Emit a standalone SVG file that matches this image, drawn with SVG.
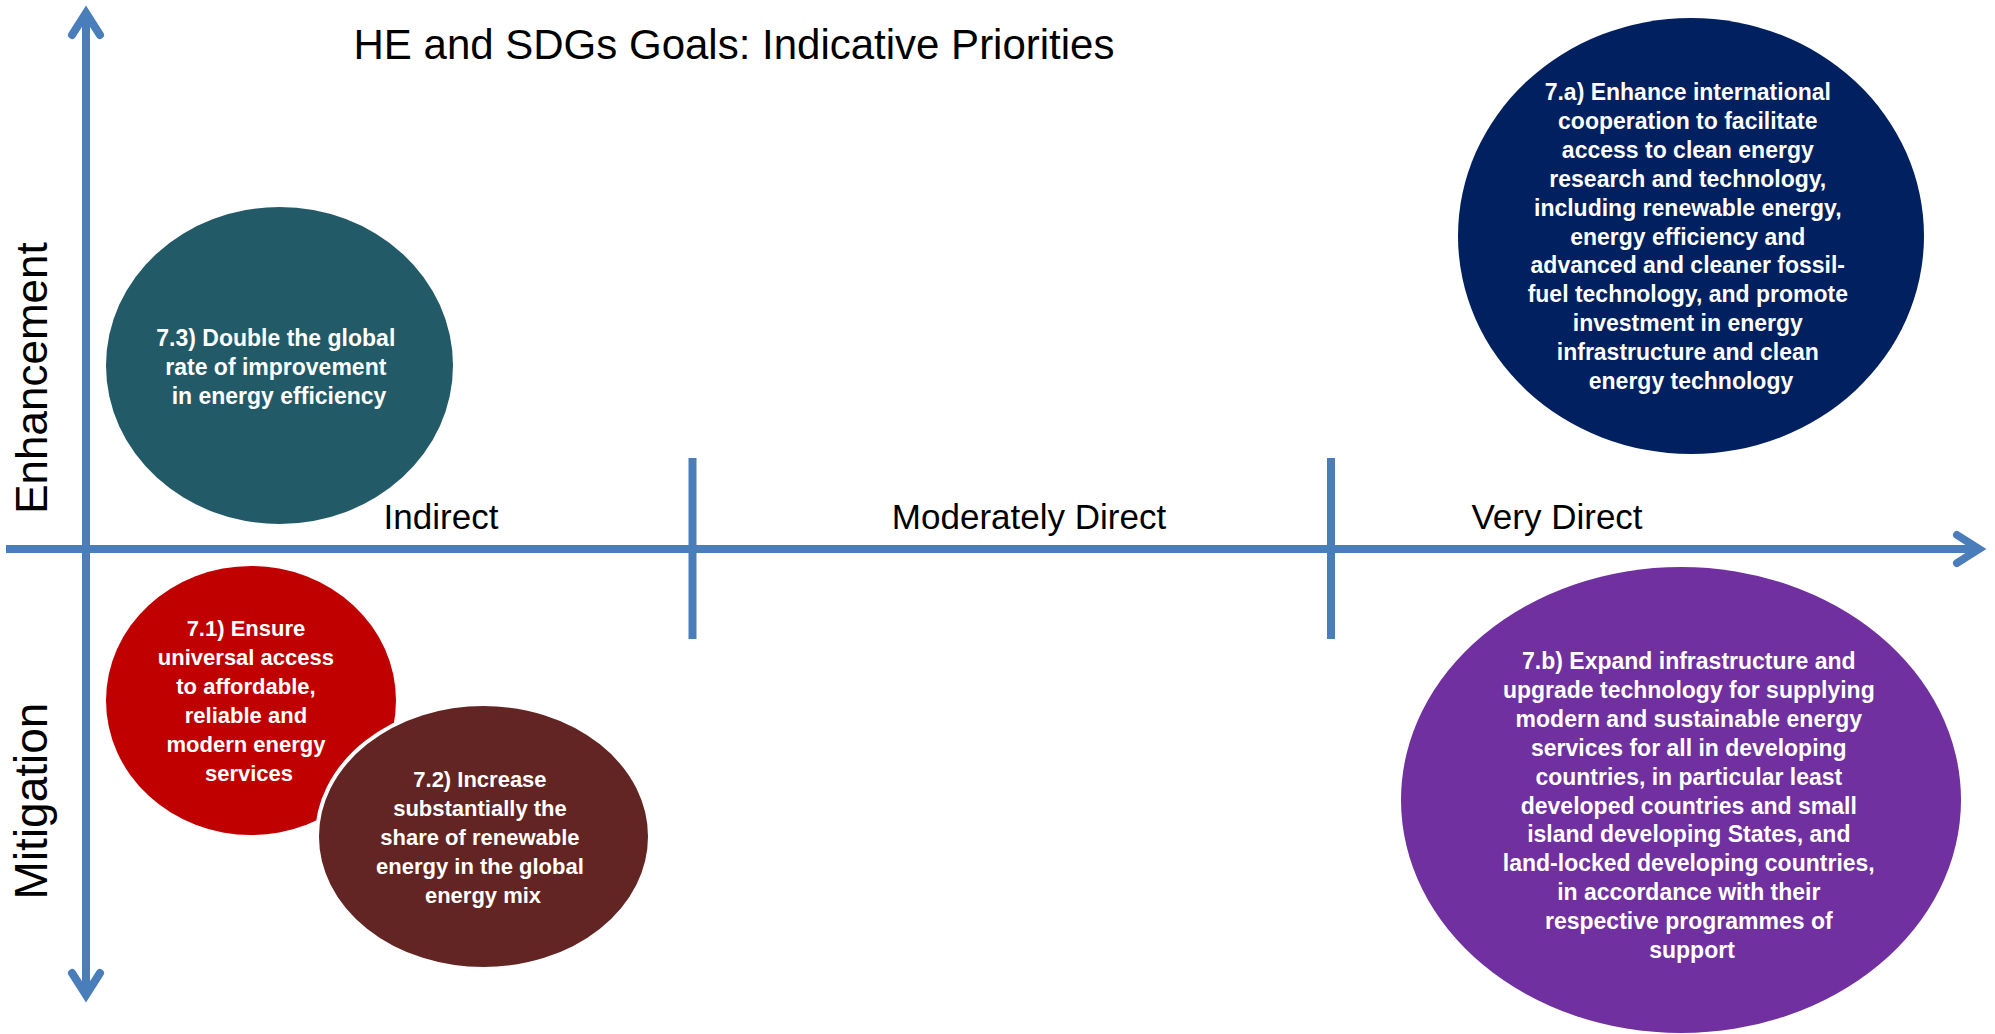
<svg xmlns="http://www.w3.org/2000/svg" width="1995" height="1034" viewBox="0 0 1995 1034">
  <style>
    .axis { stroke: #4A7EBB; stroke-width: 8; fill: none; }
    .head { stroke: #4A7EBB; stroke-width: 8; fill: none; stroke-linecap: round; stroke-linejoin: miter; stroke-miterlimit: 10; }
    .title { font-family: "Liberation Sans", Arial, sans-serif; font-size: 42px; fill: #000; text-anchor: middle; }
    .band { font-family: "Liberation Sans", Arial, sans-serif; font-size: 35px; fill: #000; text-anchor: middle; }
    .side { font-family: "Liberation Sans", Arial, sans-serif; font-size: 44px; fill: #000; text-anchor: middle; }
    .goal { font-family: "Liberation Sans", Arial, sans-serif; font-weight: bold; font-size: 23px; fill: #fff; text-anchor: middle; }
    .goal.narrow { font-size: 22px; }
  </style>

  <rect width="1995" height="1034" fill="#fff"/>

  <!-- Title -->
  <text class="title" x="734" y="59">HE and SDGs Goals: Indicative Priorities</text>

  <!-- Axes, band dividers and arrowheads -->
  <g id="connectors">
    <line class="axis" x1="86" y1="12" x2="86" y2="996"/>
    <line class="axis" x1="6" y1="549" x2="1980" y2="549"/>
    <line class="axis" x1="692.5" y1="458" x2="692.5" y2="639"/>
    <line class="axis" x1="1331" y1="458" x2="1331" y2="639"/>
    <path class="head" d="M72,35 L86,13 L100,35"/>
    <path class="head" d="M72,973 L86,995 L100,973"/>
    <path class="head" d="M1957,535 L1979,549 L1957,563"/>
  </g>

  <!-- Axis labels -->
  <g id="labels">
    <text class="band" x="441" y="529">Indirect</text>
    <text class="band" x="1029" y="529">Moderately Direct</text>
    <text class="band" x="1557" y="529">Very Direct</text>
    <text class="side" transform="translate(47,378) rotate(-90)">Enhancement</text>
    <text class="side" style="font-size:46px" transform="translate(47,801) rotate(-90)">Mitigation</text>
  </g>

  <!-- Goal 7.3 -->
  <g id="goal-7-3">
    <ellipse cx="279.5" cy="365.5" rx="173.5" ry="158.5" fill="#235A68"/>
    <text class="goal">
      <tspan x="279" y="346">7.3) Double the global</tspan>
      <tspan x="279" dy="29">rate of improvement</tspan>
      <tspan x="279" dy="29">in energy efficiency</tspan>
    </text>
  </g>

  <!-- Goal 7.a -->
  <g id="goal-7-a">
    <ellipse cx="1691" cy="236" rx="233" ry="218" fill="#002060"/>
    <text class="goal">
      <tspan x="1691" y="100">7.a) Enhance international</tspan>
      <tspan x="1691" dy="28.9">cooperation to facilitate</tspan>
      <tspan x="1691" dy="28.9">access to clean energy</tspan>
      <tspan x="1691" dy="28.9">research and technology,</tspan>
      <tspan x="1691" dy="28.9">including renewable energy,</tspan>
      <tspan x="1691" dy="28.9">energy efficiency and</tspan>
      <tspan x="1691" dy="28.9">advanced and cleaner fossil-</tspan>
      <tspan x="1691" dy="28.9">fuel technology, and promote</tspan>
      <tspan x="1691" dy="28.9">investment in energy</tspan>
      <tspan x="1691" dy="28.9">infrastructure and clean</tspan>
      <tspan x="1691" dy="28.9">energy technology</tspan>
    </text>
  </g>

  <!-- Goal 7.1 -->
  <g id="goal-7-1">
    <ellipse cx="251" cy="700.5" rx="145" ry="134.5" fill="#C00000"/>
    <text class="goal narrow">
      <tspan x="249" y="636">7.1) Ensure</tspan>
      <tspan x="249" dy="29">universal access</tspan>
      <tspan x="249" dy="29">to affordable,</tspan>
      <tspan x="249" dy="29">reliable and</tspan>
      <tspan x="249" dy="29">modern energy</tspan>
      <tspan x="249" dy="29">services</tspan>
    </text>
  </g>

  <!-- Goal 7.2 (drawn over 7.1 with a white rim) -->
  <g id="goal-7-2">
    <ellipse cx="483.5" cy="836.5" rx="166.5" ry="132.5" fill="#632523" stroke="#fff" stroke-width="4"/>
    <text class="goal narrow">
      <tspan x="483" y="787">7.2) Increase</tspan>
      <tspan x="483" dy="28.9">substantially the</tspan>
      <tspan x="483" dy="28.9">share of renewable</tspan>
      <tspan x="483" dy="28.9">energy in the global</tspan>
      <tspan x="483" dy="28.9">energy mix</tspan>
    </text>
  </g>

  <!-- Goal 7.b -->
  <g id="goal-7-b">
    <ellipse cx="1681" cy="800" rx="280" ry="233" fill="#7030A0"/>
    <text class="goal">
      <tspan x="1692" y="669">7.b) Expand infrastructure and</tspan>
      <tspan x="1692" dy="28.9">upgrade technology for supplying</tspan>
      <tspan x="1692" dy="28.9">modern and sustainable energy</tspan>
      <tspan x="1692" dy="28.9">services for all in developing</tspan>
      <tspan x="1692" dy="28.9">countries, in particular least</tspan>
      <tspan x="1692" dy="28.9">developed countries and small</tspan>
      <tspan x="1692" dy="28.9">island developing States, and</tspan>
      <tspan x="1692" dy="28.9">land-locked developing countries,</tspan>
      <tspan x="1692" dy="28.9">in accordance with their</tspan>
      <tspan x="1692" dy="28.9">respective programmes of</tspan>
      <tspan x="1692" dy="28.9">support</tspan>
    </text>
  </g>
</svg>
